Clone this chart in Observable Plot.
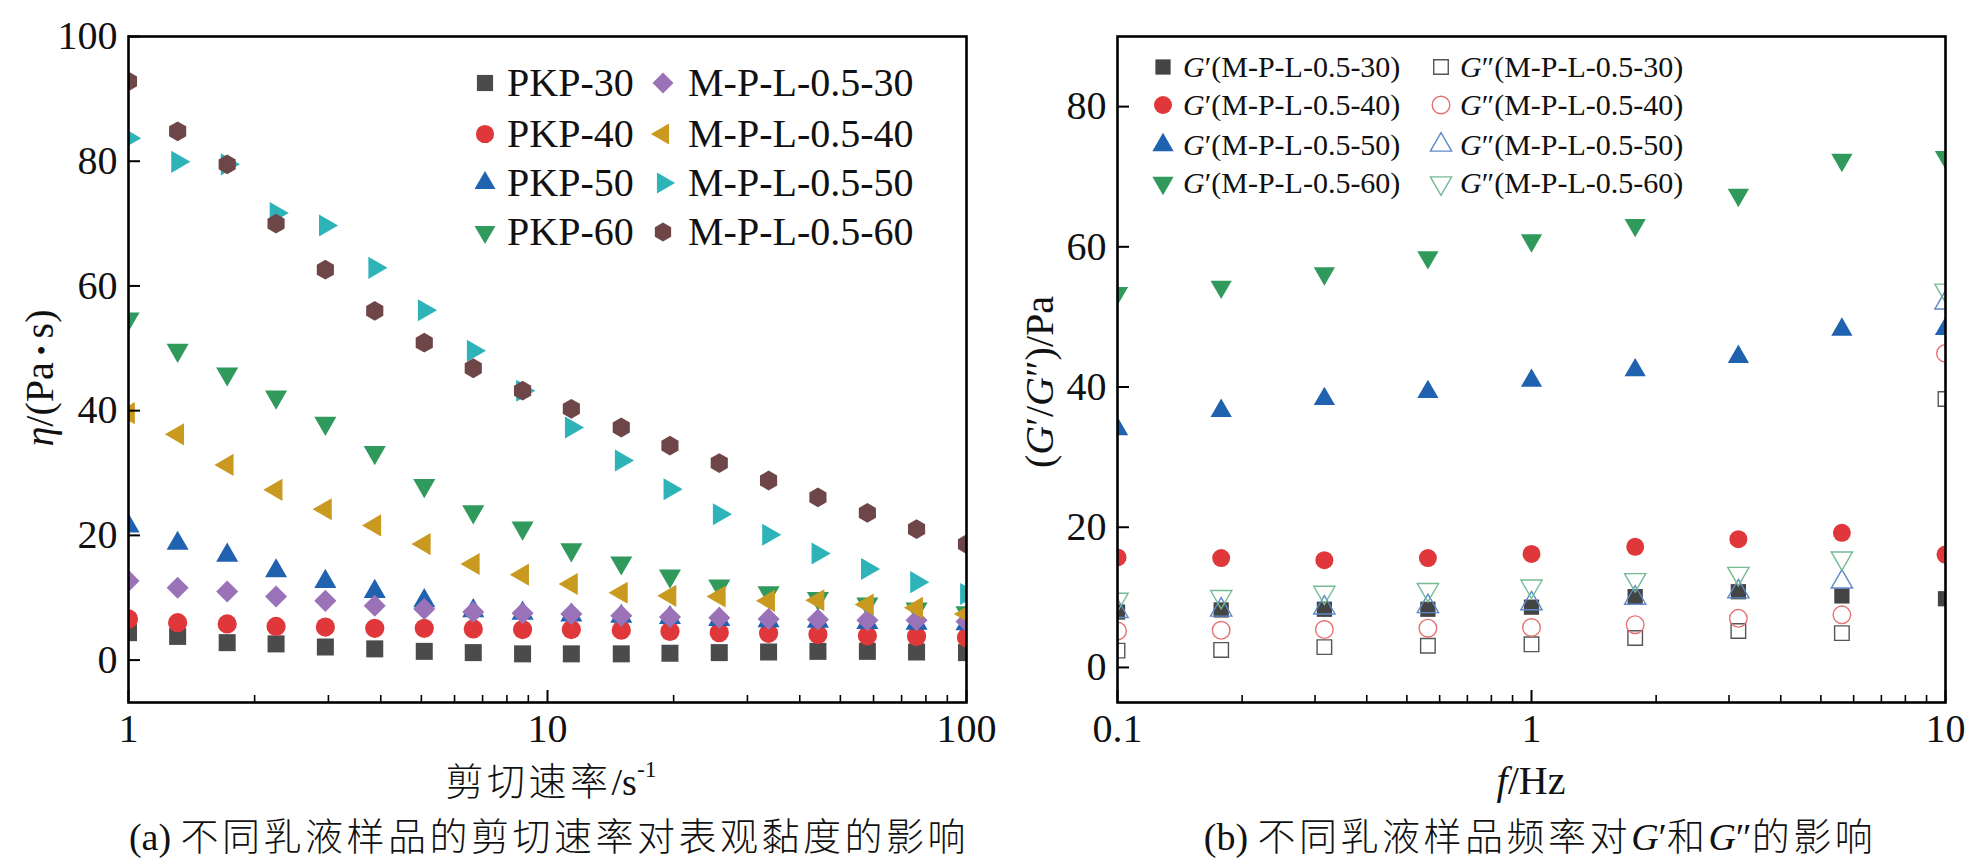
<!DOCTYPE html>
<html><head><meta charset="utf-8">
<script src="https://cdn.jsdelivr.net/npm/d3@7"></script>
<script src="https://cdn.jsdelivr.net/npm/@observablehq/plot@0.6"></script>
<style>
html,body{margin:0;padding:0;background:#fff;}
#wrap{position:relative;width:1971px;height:863px;overflow:hidden;font-family:"Liberation Serif","Noto Sans CJK SC",serif;color:#111;}
.t{position:absolute;white-space:nowrap;line-height:1;}
.c{transform:translate(-50%,-50%);}
.l{transform:translateY(-50%);}
.r{transform:translate(-50%,-50%) rotate(-90deg);}
.cjk{font-family:"Noto Sans CJK SC",sans-serif;font-weight:300;letter-spacing:3.5px;}
.plot{position:absolute;top:0;}
.mk{position:absolute;overflow:visible;}
</style></head><body><div id="wrap"></div>
<script>
// ---------------- data ----------------
// panel (a): apparent viscosity vs shear rate
const shearRate = [1, 1.31, 1.72, 2.25, 2.95, 3.87, 5.08, 6.65, 8.72, 11.4, 15.0, 19.6, 25.7, 33.7, 44.2, 58.0, 76.0, 100];
const PKP30 = [4.4, 3.8, 2.8, 2.6, 2.1, 1.8, 1.4, 1.2, 1.0, 1.0, 1.0, 1.1, 1.2, 1.3, 1.4, 1.4, 1.3, 1.2];
const PKP40 = [6.6, 6.0, 5.8, 5.4, 5.3, 5.1, 5.1, 5.0, 4.9, 4.9, 4.8, 4.6, 4.4, 4.3, 4.1, 3.9, 3.8, 3.6];
const PKP50 = [21.5, 18.7, 16.8, 14.3, 12.6, 11.0, 9.5, 7.9, 7.5, 7.2, 7.0, 6.8, 6.5, 6.3, 6.2, 6.0, 5.9, 5.8];
const PKP60 = [54.7, 49.7, 45.9, 42.2, 38.0, 33.3, 28.0, 23.8, 21.2, 17.7, 15.6, 13.5, 11.9, 10.8, 9.9, 9.0, 8.2, 7.6];
const MPL30 = [12.7, 11.6, 11.0, 10.2, 9.5, 8.7, 8.2, 7.7, 7.5, 7.4, 7.1, 6.9, 6.8, 6.6, 6.5, 6.4, 6.4, 6.2];
const MPL40 = [39.6, 36.2, 31.3, 27.3, 24.2, 21.6, 18.6, 15.4, 13.7, 12.2, 10.8, 10.3, 10.2, 9.5, 9.6, 8.9, 8.4, 7.4];
const MPL50 = [83.7, 79.9, 79.5, 71.7, 69.7, 62.9, 56.1, 49.6, 43.2, 37.3, 32.0, 27.4, 23.4, 20.1, 17.1, 14.6, 12.5, 10.6];
const MPL60 = [92.8, 84.8, 79.5, 70.0, 62.6, 56.0, 50.9, 46.8, 43.2, 40.3, 37.3, 34.4, 31.6, 28.8, 26.1, 23.6, 21.0, 18.6];
const rateMajorTicks = [1, 10, 100];
const rateMinorTicks = [2, 3, 4, 5, 6, 7, 8, 9, 20, 30, 40, 50, 60, 70, 80, 90];
const etaTicks = [0, 20, 40, 60, 80, 100];
const seriesNamesA = ["PKP-30", "PKP-40", "PKP-50", "PKP-60", "M-P-L-0.5-30", "M-P-L-0.5-40", "M-P-L-0.5-50", "M-P-L-0.5-60"];

// panel (b): G' and G'' vs frequency
const freq = [0.1, 0.178, 0.316, 0.562, 1, 1.78, 3.16, 5.62, 10];
const G1_30 = [7.9, 8.2, 8.3, 8.3, 8.6, 10.1, 10.8, 10.2, 9.8];
const G2_30 = [2.4, 2.5, 2.9, 3.1, 3.3, 4.2, 5.2, 4.9, 38.3];
const G1_40 = [15.7, 15.6, 15.3, 15.6, 16.2, 17.2, 18.3, 19.2, 16.1];
const G2_40 = [5.2, 5.3, 5.4, 5.6, 5.7, 6.1, 7.0, 7.5, 44.8];
const G1_50 = [34.0, 36.6, 38.3, 39.3, 40.9, 42.4, 44.3, 48.2, 48.3];
const G2_50 = [8.0, 8.2, 8.5, 8.7, 9.1, 9.9, 10.8, 12.2, 52.0];
const G1_60 = [53.4, 54.3, 56.2, 58.5, 60.9, 63.1, 67.4, 72.4, 72.8];
const G2_60 = [9.7, 10.1, 10.7, 11.1, 11.6, 12.5, 13.4, 15.6, 53.8];
const freqMajorTicks = [0.1, 1, 10];
const freqMinorTicks = [0.2, 0.3, 0.4, 0.5, 0.6, 0.7, 0.8, 0.9, 2, 3, 4, 5, 6, 7, 8, 9];
const modTicks = [0, 20, 40, 60, 80];
const samplesB = ["M-P-L-0.5-30", "M-P-L-0.5-40", "M-P-L-0.5-50", "M-P-L-0.5-60"];

// ---------------- styles ----------------
const hexagon = {draw(ctx, size) {
  const R = Math.sqrt(size / (1.5 * Math.sqrt(3)));
  for (let i = 0; i < 6; i++) {
    const a = Math.PI / 3 * i - Math.PI / 2;
    const px = R * Math.cos(a), py = R * Math.sin(a);
    if (i === 0) ctx.moveTo(px, py); else ctx.lineTo(px, py);
  }
  ctx.closePath();
}};
const SYM = {
  square: {sym: "square", d3: d3.symbolSquare, rot: 0},
  circle: {sym: "circle", d3: d3.symbolCircle, rot: 0},
  up: {sym: "triangle", d3: d3.symbolTriangle, rot: 0},
  down: {sym: "triangle", d3: d3.symbolTriangle, rot: 180},
  left: {sym: "triangle", d3: d3.symbolTriangle, rot: -90},
  right: {sym: "triangle", d3: d3.symbolTriangle, rot: 90},
  diamond: {sym: "square", d3: d3.symbolSquare, rot: 45},
  hex: {sym: hexagon, d3: hexagon, rot: 0}
};
const stylesA = [
  {shape: "square", color: "#4b4b4b", r: 9.6},
  {shape: "circle", color: "#e0383a", r: 9.6},
  {shape: "up", color: "#2162b0", r: 8.2},
  {shape: "down", color: "#2f9a5c", r: 8.2},
  {shape: "diamond", color: "#9a72b8", r: 8.8},
  {shape: "left", color: "#c99a1f", r: 8.2},
  {shape: "right", color: "#2db3b8", r: 8.2},
  {shape: "hex", color: "#6f4648", r: 9.0}
];
const valuesA = [PKP30, PKP40, PKP50, PKP60, MPL30, MPL40, MPL50, MPL60];

const stylesB = [
  {shape: "square", color: "#444444", r: 8.6, open: false},
  {shape: "square", color: "#555555", r: 8.2, open: true},
  {shape: "circle", color: "#e0383a", r: 9.0, open: false},
  {shape: "circle", color: "#e47272", r: 8.8, open: true},
  {shape: "up", color: "#2162b0", r: 7.9, open: false},
  {shape: "up", color: "#5f89c8", r: 7.9, open: true},
  {shape: "down", color: "#2f9a5c", r: 7.9, open: false},
  {shape: "down", color: "#74bb93", r: 7.9, open: true}
];
const valuesB = [G1_30, G2_30, G1_40, G2_40, G1_50, G2_50, G1_60, G2_60];

const wrap = document.getElementById("wrap");
const plotStyle = {fontFamily: "'Liberation Serif', serif", fontSize: "40px", color: "#111", background: "none", overflow: "visible"};

function dotMark(xs, ys, st) {
  const s = SYM[st.shape];
  const data = xs.map((x, i) => ({x, y: ys[i]}));
  const o = {x: "x", y: "y", r: st.r, symbol: s.sym, rotate: s.rot, clip: true};
  if (st.open) { o.fill = "none"; o.stroke = st.color; o.strokeWidth = 1.4; }
  else { o.fill = st.color; o.stroke = "none"; }
  return Plot.dot(data, o);
}

// ---------------- panel (a) ----------------
const A = {w: 985, h: 760, ml: 128, mr: 19, mt: 36, mb: 58};
const aIW = A.w - A.ml - A.mr, aIH = A.h - A.mt - A.mb;
const plotA = Plot.plot({
  width: A.w, height: A.h, marginLeft: A.ml, marginRight: A.mr, marginTop: A.mt, marginBottom: A.mb,
  style: plotStyle,
  x: {type: "log", domain: [1, 100]},
  y: {domain: [-6.8, 100]},
  marks: [
    ...valuesA.map((v, i) => dotMark(shearRate, v, stylesA[i])),
    Plot.tickX(rateMajorTicks, {x: d => d, insetTop: aIH - 12, stroke: "#000", strokeWidth: 2}),
    Plot.tickX(rateMinorTicks, {x: d => d, insetTop: aIH - 7, stroke: "#000", strokeWidth: 1.6}),
    Plot.tickY(etaTicks, {y: d => d, insetRight: aIW - 12, stroke: "#000", strokeWidth: 2}),
    Plot.frame({stroke: "#000", strokeWidth: 2.6}),
    Plot.axisX({ticks: rateMajorTicks, tickSize: 0, tickPadding: 11, tickFormat: d => String(d), label: null, fontSize: 40}),
    Plot.axisY({ticks: etaTicks, tickSize: 0, tickPadding: 11, tickFormat: d => String(d), label: null, fontSize: 40})
  ]
});
plotA.classList.add("plot");
plotA.style.left = "0px";
wrap.appendChild(plotA);

// ---------------- panel (b) ----------------
const B = {x0: 985, w: 986, h: 760, ml: 132, mr: 26, mt: 36, mb: 58};
const bIW = B.w - B.ml - B.mr, bIH = B.h - B.mt - B.mb;
const plotB = Plot.plot({
  width: B.w, height: B.h, marginLeft: B.ml, marginRight: B.mr, marginTop: B.mt, marginBottom: B.mb,
  style: plotStyle,
  x: {type: "log", domain: [0.1, 10]},
  y: {domain: [-5.0, 90]},
  marks: [
    ...valuesB.map((v, i) => dotMark(freq, v, stylesB[i])),
    Plot.tickX(freqMajorTicks, {x: d => d, insetTop: bIH - 12, stroke: "#000", strokeWidth: 2}),
    Plot.tickX(freqMinorTicks, {x: d => d, insetTop: bIH - 7, stroke: "#000", strokeWidth: 1.6}),
    Plot.tickY(modTicks, {y: d => d, insetRight: bIW - 12, stroke: "#000", strokeWidth: 2}),
    Plot.frame({stroke: "#000", strokeWidth: 2.6}),
    Plot.axisX({ticks: freqMajorTicks, tickSize: 0, tickPadding: 11, tickFormat: d => String(d), label: null, fontSize: 40}),
    Plot.axisY({ticks: modTicks, tickSize: 0, tickPadding: 11, tickFormat: d => String(d), label: null, fontSize: 40})
  ]
});
plotB.classList.add("plot");
plotB.style.left = B.x0 + "px";
wrap.appendChild(plotB);

// ---------------- texts ----------------
function addText(html, x, y, cls, size) {
  const d = document.createElement("div");
  d.className = "t " + cls;
  d.style.left = x + "px"; d.style.top = y + "px";
  d.style.fontSize = size + "px";
  d.innerHTML = html;
  wrap.appendChild(d);
  return d;
}
function addMarker(st, x, y, r) {
  const s = SYM[st.shape];
  const ns = "http://www.w3.org/2000/svg";
  const svg = document.createElementNS(ns, "svg");
  svg.setAttribute("class", "mk");
  svg.setAttribute("width", 40); svg.setAttribute("height", 40);
  svg.style.left = (x - 20) + "px"; svg.style.top = (y - 20) + "px";
  const p = document.createElementNS(ns, "path");
  p.setAttribute("d", d3.symbol(s.d3, Math.PI * r * r)());
  p.setAttribute("transform", `translate(20,20) rotate(${s.rot})`);
  if (st.open) { p.setAttribute("fill", "none"); p.setAttribute("stroke", st.color); p.setAttribute("stroke-width", 1.4); }
  else p.setAttribute("fill", st.color);
  svg.appendChild(p);
  wrap.appendChild(svg);
}

// axis titles
addText('<i>η</i>/(Pa<span style="font-size:0.7em;position:relative;top:-0.08em"> • </span>s)', 40, 378, "r", 40);
addText('<span class="cjk">剪切速率</span>/s<span style="font-size:0.62em;position:relative;top:-0.75em">-1</span>', 551, 780, "c", 38);
addText('(<i>G</i>′/<i>G</i>″)/Pa', 1040, 382, "r", 40);
addText('<i>f</i>/Hz', 1531, 781, "c", 40);
// captions
addText('(a) <span class="cjk">不同乳液样品的剪切速率对表观黏度的影响</span>', 549, 835, "c", 38);
addText('(b) <span class="cjk">不同乳液样品频率对</span><i>G</i>′<span class="cjk">和</span><i>G</i>″<span class="cjk">的影响</span>', 1540, 835, "c", 38);

// legend (a)
const legARows = [83, 134, 183, 232];
seriesNamesA.forEach((name, i) => {
  const col = i < 4 ? 0 : 1, row = i % 4;
  const mx = col ? 663 : 485, tx = col ? 688 : 507;
  addMarker(stylesA[i], mx, legARows[row], stylesA[i].r * 0.95);
  addText(name, tx, legARows[row], "l", 40);
});
// legend (b)
const legBRows = [67, 105, 145, 183];
samplesB.forEach((name, row) => {
  addMarker(stylesB[row * 2], 1163, legBRows[row], stylesB[row * 2].r);
  addText('<i>G</i>′(' + name + ')', 1183, legBRows[row], "l", 30);
  addMarker(stylesB[row * 2 + 1], 1441, legBRows[row], stylesB[row * 2 + 1].r);
  addText('<i>G</i>″(' + name + ')', 1460, legBRows[row], "l", 30);
});
</script></body></html>
